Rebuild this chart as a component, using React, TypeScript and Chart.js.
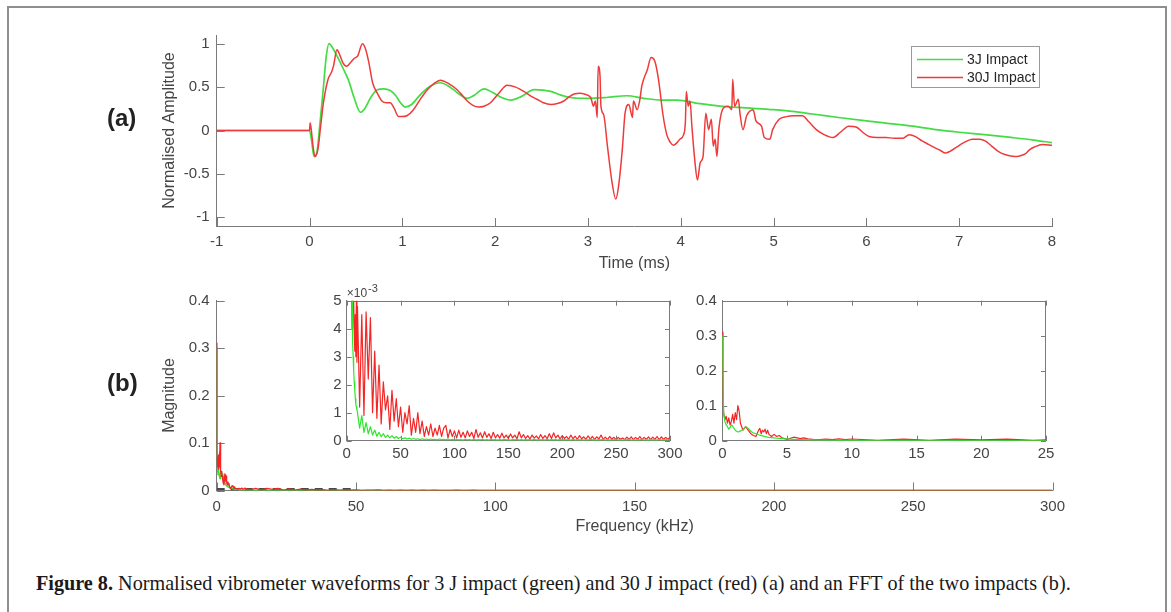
import React, { useEffect, useRef } from "react";
import { Chart, registerables } from "chart.js";

Chart.register(...registerables);

// ---------------- tick labels ----------------
const timeTicks = [-1, 0, 1, 2, 3, 4, 5, 6, 7, 8];
const amplitudeTicks = [-1, -0.5, 0, 0.5, 1];
const freqTicks = [0, 50, 100, 150, 200, 250, 300];
const magnitudeTicks = [0, 0.1, 0.2, 0.3, 0.4];
const zoomFreqTicks = [0, 5, 10, 15, 20, 25];
const zoomMagTicks = [0, 0.001, 0.002, 0.003, 0.004, 0.005];

const seriesLabels = ["3J Impact", "30J Impact"];

// ---------------- (a) normalised waveforms: [time ms, amplitude] ----------------
const wave3J: [number, number][] = [
  [-1, 0], [0, 0], [0.02, -0.1], [0.05, -0.3], [0.08, -0.25], [0.11, 0.05], [0.15, 0.5],
  [0.18, 0.85], [0.21, 1.0], [0.25, 0.95], [0.3, 0.85], [0.36, 0.72], [0.42, 0.58],
  [0.48, 0.38], [0.55, 0.21], [0.6, 0.26], [0.66, 0.38], [0.73, 0.47], [0.8, 0.48],
  [0.87, 0.46], [0.93, 0.4], [0.98, 0.32], [1.03, 0.27], [1.1, 0.3], [1.2, 0.42],
  [1.3, 0.51], [1.41, 0.55], [1.5, 0.51], [1.6, 0.43], [1.7, 0.37], [1.78, 0.41],
  [1.88, 0.48], [1.97, 0.44], [2.07, 0.38], [2.17, 0.35], [2.28, 0.39], [2.42, 0.47],
  [2.6, 0.45], [2.7, 0.41], [2.81, 0.38], [3.0, 0.37], [3.2, 0.38], [3.42, 0.4],
  [3.6, 0.37], [3.8, 0.35], [3.96, 0.35], [4.2, 0.31], [4.42, 0.28], [4.7, 0.26],
  [5.0, 0.24], [5.2, 0.22], [5.42, 0.19], [5.7, 0.15], [6.0, 0.11], [6.25, 0.08],
  [6.5, 0.05], [6.75, 0.01], [7.0, -0.02], [7.3, -0.05], [7.56, -0.08], [7.8, -0.11],
  [8.0, -0.14],
];

const wave30J: [number, number][] = [
  [-1, 0], [0, 0], [0.007, 0.09], [0.02, 0.0], [0.04, -0.2], [0.06, -0.3], [0.09, -0.22],
  [0.12, 0.05], [0.15, 0.32], [0.2, 0.59], [0.24, 0.68], [0.26, 0.75], [0.295, 0.93],
  [0.33, 0.86], [0.36, 0.78], [0.4, 0.74], [0.44, 0.78], [0.48, 0.83], [0.52, 0.86],
  [0.57, 1.0], [0.6, 0.95], [0.64, 0.78], [0.68, 0.55], [0.73, 0.43], [0.78, 0.34],
  [0.83, 0.32], [0.87, 0.32], [0.91, 0.26], [0.96, 0.16], [1.0, 0.16], [1.05, 0.17],
  [1.12, 0.24], [1.2, 0.37], [1.27, 0.47], [1.34, 0.54], [1.41, 0.58], [1.5, 0.54],
  [1.59, 0.47], [1.65, 0.4], [1.7, 0.34], [1.76, 0.29], [1.82, 0.27], [1.88, 0.28],
  [1.95, 0.32], [2.04, 0.43], [2.13, 0.52], [2.22, 0.5], [2.31, 0.45], [2.38, 0.4],
  [2.45, 0.36], [2.52, 0.32], [2.6, 0.3], [2.67, 0.31], [2.74, 0.34], [2.8, 0.39],
  [2.85, 0.42], [2.92, 0.43], [2.96, 0.42], [3.03, 0.38], [3.06, 0.28], [3.08, 0.34],
  [3.1, 0.15], [3.11, 0.74], [3.13, 0.63], [3.14, 0.28], [3.17, 0.18], [3.21, -0.18],
  [3.26, -0.6], [3.3, -0.79], [3.33, -0.64], [3.37, -0.22], [3.4, 0.2], [3.44, 0.3],
  [3.48, 0.15], [3.49, 0.34], [3.53, 0.24], [3.56, 0.36], [3.58, 0.51], [3.64, 0.7],
  [3.68, 0.84], [3.72, 0.8], [3.76, 0.59], [3.81, 0.17], [3.85, -0.05], [3.89, -0.14],
  [3.92, -0.17], [3.96, -0.14], [3.99, -0.1], [4.03, -0.05], [4.05, 0.1], [4.06, 0.45],
  [4.08, 0.28], [4.1, 0.34], [4.12, 0.05], [4.15, -0.33], [4.18, -0.57], [4.21, -0.37],
  [4.24, -0.3], [4.27, 0.2], [4.3, 0.01], [4.33, 0.13], [4.35, -0.18], [4.37, -0.1],
  [4.39, -0.3], [4.41, 0.01], [4.46, 0.26], [4.51, 0.28], [4.55, 0.24], [4.56, 0.59],
  [4.58, 0.28], [4.62, 0.36], [4.64, 0.18], [4.67, 0.01], [4.71, 0.17], [4.78, 0.24],
  [4.81, 0.11], [4.87, 0.05], [4.9, -0.08], [4.96, -0.1], [4.99, 0.01], [5.06, 0.13],
  [5.14, 0.16], [5.21, 0.17], [5.31, 0.17], [5.38, 0.1], [5.46, 0.01], [5.55, -0.05],
  [5.64, -0.08], [5.72, -0.02], [5.81, 0.05], [5.89, 0.04], [5.96, -0.02], [6.03, -0.07],
  [6.12, -0.08], [6.21, -0.08], [6.3, -0.09], [6.39, -0.09], [6.46, -0.05], [6.53, -0.07],
  [6.6, -0.12], [6.67, -0.16], [6.74, -0.2], [6.8, -0.23], [6.85, -0.26], [6.9, -0.24],
  [6.96, -0.2], [7.05, -0.14], [7.14, -0.1], [7.22, -0.1], [7.28, -0.12], [7.35, -0.18],
  [7.42, -0.24], [7.5, -0.28], [7.6, -0.3], [7.66, -0.29], [7.71, -0.27], [7.76, -0.22],
  [7.81, -0.19], [7.9, -0.16], [8.0, -0.17],
];

// ---------------- (b) FFT magnitude: [frequency kHz, magnitude] ----------------
const fft3JLow: [number, number][] = [
  [0, 0.3], [0.05, 0.2], [0.1, 0.08], [0.2, 0.055], [0.3, 0.045], [0.4, 0.04], [0.5, 0.033],
  [0.6, 0.038], [0.7, 0.045], [0.8, 0.042], [0.9, 0.035], [1.0, 0.03], [1.1, 0.027],
  [1.2, 0.025], [1.3, 0.026], [1.4, 0.028], [1.5, 0.03], [1.6, 0.032], [1.7, 0.036],
  [1.8, 0.04], [1.9, 0.038], [2.0, 0.035], [2.2, 0.027], [2.4, 0.022], [2.6, 0.02],
  [2.8, 0.017], [2.9, 0.016], [3.0, 0.015], [3.1, 0.014], [3.2, 0.013], [3.3, 0.012],
  [3.4, 0.011], [3.5, 0.01], [3.6, 0.0095], [3.8, 0.009], [4.0, 0.008], [4.2, 0.007],
  [4.4, 0.0065], [4.6, 0.006], [4.8, 0.0055], [5.0, 0.005], [5.2, 0.0046], [5.5, 0.004],
  [5.8, 0.0035], [6.0, 0.003], [6.3, 0.0028], [6.6, 0.0025], [7.0, 0.0021], [7.5, 0.0018],
  [8.0, 0.0015], [8.5, 0.0013], [9.0, 0.0012], [9.5, 0.0011],
];

const fft30JLow: [number, number][] = [
  [0, 0.31], [0.05, 0.15], [0.1, 0.08], [0.2, 0.06], [0.3, 0.07], [0.4, 0.05], [0.5, 0.065],
  [0.6, 0.045], [0.7, 0.055], [0.8, 0.075], [0.9, 0.05], [1.0, 0.08], [1.1, 0.06],
  [1.2, 0.1], [1.3, 0.085], [1.4, 0.05], [1.5, 0.04], [1.6, 0.03], [1.7, 0.035],
  [1.8, 0.04], [1.9, 0.035], [2.0, 0.03], [2.2, 0.02], [2.4, 0.015], [2.6, 0.012],
  [2.8, 0.03], [2.9, 0.035], [3.0, 0.02], [3.1, 0.03], [3.2, 0.025], [3.3, 0.033],
  [3.4, 0.02], [3.5, 0.03], [3.6, 0.018], [3.8, 0.012], [4.0, 0.018], [4.2, 0.012],
  [4.4, 0.015], [4.6, 0.008], [4.8, 0.006], [5.0, 0.004], [5.2, 0.006], [5.5, 0.01],
  [5.8, 0.008], [6.0, 0.006], [6.3, 0.008], [6.6, 0.005], [7.0, 0.004], [7.5, 0.0032],
  [8.0, 0.0045], [8.5, 0.003], [9.0, 0.005], [9.5, 0.0028],
];

// above 10 kHz the magnitudes are read in units of 1e-3 (the inset's ×10^-3 axis)
const fft3JHighE3: [number, number][] = [
  [10, 1.0], [12, 0.45], [14, 0.9], [16, 0.3], [18, 0.65], [20, 0.25], [22, 0.5], [24, 0.2], [26, 0.38], [28, 0.16],
  [30, 0.3], [32, 0.14], [34, 0.25], [36, 0.12], [38, 0.2], [40, 0.1], [42, 0.18], [44, 0.09], [46, 0.15], [48, 0.08],
  [50, 0.12], [52, 0.07], [54, 0.1], [56, 0.06], [58, 0.09], [60, 0.05], [62, 0.08], [64, 0.05], [66, 0.07], [68, 0.04],
  [70, 0.07], [72, 0.04], [74, 0.06], [76, 0.03], [78, 0.06], [80, 0.04], [82, 0.05], [84, 0.03], [86, 0.06], [88, 0.03],
  [90, 0.05], [92, 0.03], [94, 0.06], [96, 0.03], [98, 0.05], [100, 0.02], [102, 0.05], [104, 0.03], [106, 0.04], [108, 0.02],
  [110, 0.05], [112, 0.03], [114, 0.04], [116, 0.02], [118, 0.05], [120, 0.02], [122, 0.04], [124, 0.03], [126, 0.05], [128, 0.02],
  [130, 0.04], [132, 0.02], [134, 0.05], [136, 0.03], [138, 0.04], [140, 0.02], [142, 0.04], [144, 0.02], [146, 0.05], [148, 0.03],
  [150, 0.04], [152, 0.02], [154, 0.04], [156, 0.03], [158, 0.05], [160, 0.02], [162, 0.04], [164, 0.02], [166, 0.04], [168, 0.03],
  [170, 0.04], [172, 0.02], [174, 0.05], [176, 0.02], [178, 0.04], [180, 0.03], [182, 0.04], [184, 0.02], [186, 0.05], [188, 0.02],
  [190, 0.04], [192, 0.03], [194, 0.04], [196, 0.02], [198, 0.05], [200, 0.02], [202, 0.04], [204, 0.03], [206, 0.04], [208, 0.02],
  [210, 0.05], [212, 0.02], [214, 0.04], [216, 0.03], [218, 0.04], [220, 0.02], [222, 0.04], [224, 0.02], [226, 0.05], [228, 0.03],
  [230, 0.04], [232, 0.02], [234, 0.04], [236, 0.03], [238, 0.05], [240, 0.02], [242, 0.04], [244, 0.02], [246, 0.04], [248, 0.03],
  [250, 0.05], [252, 0.02], [254, 0.04], [256, 0.02], [258, 0.04], [260, 0.03], [262, 0.05], [264, 0.02], [266, 0.04], [268, 0.02],
  [270, 0.04], [272, 0.03], [274, 0.05], [276, 0.02], [278, 0.04], [280, 0.02], [282, 0.04], [284, 0.03], [286, 0.04], [288, 0.02],
  [290, 0.05], [292, 0.02], [294, 0.04], [296, 0.03], [298, 0.04], [300, 0.02],
];

const fft30JHighE3: [number, number][] = [
  [10, 4.8], [12, 1.2], [14, 4.5], [16, 0.9], [18, 4.6], [20, 2.2], [22, 4.4], [24, 1.0], [26, 3.2], [28, 0.8],
  [30, 2.7], [32, 0.6], [34, 2.1], [36, 1.1], [38, 1.6], [40, 0.4], [42, 1.8], [44, 0.7], [46, 1.5], [48, 0.5],
  [50, 1.2], [52, 0.3], [54, 1.0], [56, 0.6], [58, 1.25], [60, 0.2], [62, 0.8], [64, 0.3], [66, 1.0], [68, 0.25],
  [70, 0.7], [72, 0.15], [74, 0.5], [76, 0.2], [78, 0.6], [80, 0.15], [82, 0.45], [84, 0.2], [86, 0.55], [88, 0.15],
  [90, 0.45], [92, 0.55], [94, 0.1], [96, 0.4], [98, 0.15], [100, 0.35], [102, 0.1], [104, 0.38], [106, 0.12], [108, 0.3],
  [110, 0.1], [112, 0.35], [114, 0.15], [116, 0.3], [118, 0.08], [120, 0.4], [122, 0.12], [124, 0.28], [126, 0.1], [128, 0.32],
  [130, 0.12], [132, 0.25], [134, 0.08], [136, 0.3], [138, 0.1], [140, 0.22], [142, 0.09], [144, 0.27], [146, 0.1], [148, 0.2],
  [150, 0.08], [152, 0.24], [154, 0.1], [156, 0.2], [158, 0.07], [160, 0.32], [162, 0.1], [164, 0.22], [166, 0.08], [168, 0.18],
  [170, 0.06], [172, 0.2], [174, 0.09], [176, 0.17], [178, 0.06], [180, 0.22], [182, 0.08], [184, 0.18], [186, 0.07], [188, 0.25],
  [190, 0.08], [192, 0.28], [194, 0.1], [196, 0.2], [198, 0.06], [200, 0.18], [202, 0.08], [204, 0.15], [206, 0.05], [208, 0.2],
  [210, 0.07], [212, 0.16], [214, 0.05], [216, 0.18], [218, 0.07], [220, 0.14], [222, 0.05], [224, 0.17], [226, 0.06], [228, 0.15],
  [230, 0.05], [232, 0.14], [234, 0.06], [236, 0.2], [238, 0.05], [240, 0.13], [242, 0.04], [244, 0.15], [246, 0.06], [248, 0.12],
  [250, 0.04], [252, 0.12], [254, 0.05], [256, 0.1], [258, 0.04], [260, 0.13], [262, 0.05], [264, 0.14], [266, 0.04], [268, 0.12],
  [270, 0.05], [272, 0.15], [274, 0.04], [276, 0.12], [278, 0.05], [280, 0.14], [282, 0.04], [284, 0.13], [286, 0.05], [288, 0.15],
  [290, 0.04], [292, 0.14], [294, 0.05], [296, 0.12], [298, 0.05], [300, 0.13],
];

// zoom-region marker drawn on the full-range FFT (0–50 kHz)
const zoomMarkerFreq = [0, 50];
const zoomMarkerMag = 0.0025;

// ---------------- styling ----------------
const SANS = '"Liberation Sans", Arial, Helvetica, sans-serif';
const SERIF = '"Liberation Serif", "Times New Roman", serif';
const AXIS = "#7a7a7a";
const TICK = "#454545";
const GREEN_A = "#44dc44";
const RED_A = "#ee3a3a";
const GREEN_B = "#2ee62e";
const RED_B = "#f52525";

const toXY = (pairs: [number, number][]) => pairs.map(([x, y]) => ({ x, y }));
const e3 = (pairs: [number, number][]) => pairs.map(([f, m]) => [f, m / 1000] as [number, number]);
const fft3J = [...fft3JLow, ...e3(fft3JHighE3)];
const fft30J = [...fft30JLow, ...e3(fft30JHighE3)];

const fmt = (v: any) => String(Math.round(Number(v) * 1000) / 1000);

function axisDecor(len: number, box: boolean) {
  return {
    id: "axisDecor",
    beforeDatasetsDraw(chart: any) {
      const { ctx, chartArea: a, scales } = chart;
      const xs = scales.x;
      const ys = scales.y;
      ctx.save();
      ctx.strokeStyle = AXIS;
      ctx.lineWidth = 1;
      ctx.beginPath();
      for (const t of xs.ticks) {
        const px = Math.round(xs.getPixelForValue(t.value)) + 0.5;
        ctx.moveTo(px, a.bottom);
        ctx.lineTo(px, a.bottom - len);
        if (box) {
          ctx.moveTo(px, a.top);
          ctx.lineTo(px, a.top + len);
        }
      }
      for (const t of ys.ticks) {
        const py = Math.round(ys.getPixelForValue(t.value)) + 0.5;
        ctx.moveTo(a.left, py);
        ctx.lineTo(a.left + len, py);
        if (box) {
          ctx.moveTo(a.right, py);
          ctx.lineTo(a.right - len, py);
        }
      }
      if (box) {
        ctx.moveTo(a.left, Math.round(a.top) + 0.5);
        ctx.lineTo(a.right, Math.round(a.top) + 0.5);
        ctx.moveTo(Math.round(a.right) - 0.5, a.top);
        ctx.lineTo(Math.round(a.right) - 0.5, a.bottom);
      }
      ctx.stroke();
      ctx.restore();
    },
  };
}

function boxLegend(x: number, y: number, w: number, h: number, items: { text: string; color: string }[]) {
  return {
    id: "boxLegend",
    afterDraw(chart: any) {
      const { ctx } = chart;
      ctx.save();
      ctx.fillStyle = "#ffffff";
      ctx.fillRect(x, y, w, h);
      ctx.strokeStyle = "#9a9a9a";
      ctx.lineWidth = 1;
      ctx.strokeRect(x + 0.5, y + 0.5, w, h);
      items.forEach((it, i) => {
        const cy = y + 13.5 + i * 18;
        ctx.strokeStyle = it.color;
        ctx.lineWidth = 1.6;
        ctx.beginPath();
        ctx.moveTo(x + 6, cy);
        ctx.lineTo(x + 52, cy);
        ctx.stroke();
        ctx.fillStyle = "#262626";
        ctx.font = `14px ${SANS}`;
        ctx.textBaseline = "middle";
        ctx.fillText(it.text, x + 56, cy + 0.5);
      });
      ctx.restore();
    },
  };
}

function exponentLabel() {
  return {
    id: "exponentLabel",
    afterDraw(chart: any) {
      const { ctx, chartArea: a } = chart;
      ctx.save();
      ctx.fillStyle = TICK;
      ctx.textBaseline = "alphabetic";
      ctx.font = `12px ${SANS}`;
      const base = "\u00d710";
      ctx.fillText(base, a.left, a.top - 4);
      const w = ctx.measureText(base).width;
      ctx.font = `11px ${SANS}`;
      ctx.fillText("-3", a.left + w + 1, a.top - 9);
      ctx.restore();
    },
  };
}

function linearAxis(opts: {
  min: number;
  max: number;
  ticks: number[];
  fit: number;
  horizontal: boolean;
  padding: number;
  title?: string;
  format?: (v: any) => string;
}) {
  return {
    type: "linear",
    min: opts.min,
    max: opts.max,
    afterBuildTicks: (s: any) => {
      s.ticks = opts.ticks.map((v) => ({ value: v }));
    },
    afterFit: (s: any) => {
      if (opts.horizontal) s.height = opts.fit;
      else s.width = opts.fit;
    },
    grid: { display: false, drawTicks: false },
    border: { display: true, color: AXIS, width: 1 },
    ticks: {
      padding: opts.padding,
      color: TICK,
      font: { family: SANS, size: 15 },
      autoSkip: false,
      maxRotation: 0,
      callback: opts.format || fmt,
    },
    title: opts.title
      ? {
          display: true,
          text: opts.title,
          color: TICK,
          font: { family: SANS, size: 16 },
          padding: { top: 4, bottom: 4 },
        }
      : { display: false },
  };
}

function lineSet(label: string, pairs: [number, number][], color: string, width: number, order: number, smooth: boolean) {
  return {
    label,
    data: toXY(pairs),
    borderColor: color,
    backgroundColor: color,
    borderWidth: width,
    pointRadius: 0,
    fill: false,
    order,
    borderJoinStyle: "round",
    cubicInterpolationMode: smooth ? "monotone" : "default",
    tension: 0,
  };
}

const baseOptions = (padding: any, scales: any) => ({
  responsive: false,
  maintainAspectRatio: false,
  animation: false,
  events: [],
  layout: { padding },
  plugins: { legend: { display: false }, tooltip: { enabled: false }, title: { display: false } },
  scales,
});

export default function App() {
  const refA = useRef<HTMLCanvasElement>(null);
  const refB = useRef<HTMLCanvasElement>(null);
  const refC = useRef<HTMLCanvasElement>(null);
  const refD = useRef<HTMLCanvasElement>(null);

  useEffect(() => {
    const charts: Chart[] = [];

    // (a) time-domain waveforms
    charts.push(
      new Chart(refA.current as HTMLCanvasElement, {
        type: "line",
        data: {
          datasets: [
            lineSet(seriesLabels[0], wave3J, GREEN_A, 1.7, 1, true),
            lineSet(seriesLabels[1], wave30J, RED_A, 1.5, 0, true),
          ],
        } as any,
        options: baseOptions(
          { left: 156.4, right: 119, top: 35, bottom: 0 },
          {
            x: linearAxis({ min: -1, max: 8, ticks: timeTicks, fit: 51, horizontal: true, padding: 7, title: "Time (ms)" }),
            y: linearAxis({ min: -1.1, max: 1.1, ticks: amplitudeTicks, fit: 60.3, horizontal: false, padding: 7, title: "Normalised Amplitude" }),
          }
        ) as any,
        plugins: [
          axisDecor(8, false),
          boxLegend(911, 46, 128, 41, [
            { text: seriesLabels[0], color: GREEN_A },
            { text: seriesLabels[1], color: RED_A },
          ]),
        ] as any,
      })
    );

    // (b) full-range FFT
    charts.push(
      new Chart(refB.current as HTMLCanvasElement, {
        type: "line",
        data: {
          datasets: [
            lineSet(seriesLabels[0], fft3J, GREEN_B, 1.3, 1, false),
            lineSet(seriesLabels[1], fft30J, RED_B, 1.3, 0, false),
            {
              label: "zoom region",
              data: zoomMarkerFreq.map((f) => ({ x: f, y: zoomMarkerMag })),
              borderColor: "#4a4a4a",
              borderWidth: 2.5,
              borderDash: [8, 6],
              pointRadius: 0,
              fill: false,
              order: 2,
            },
          ],
        } as any,
        options: baseOptions(
          { left: 156.4, right: 118.5, top: 20.5, bottom: 0 },
          {
            x: linearAxis({ min: 0, max: 300, ticks: freqTicks, fit: 49.5, horizontal: true, padding: 7, title: "Frequency (kHz)" }),
            y: linearAxis({ min: 0, max: 0.4, ticks: magnitudeTicks, fit: 60.3, horizontal: false, padding: 7, title: "Magnitude" }),
          }
        ) as any,
        plugins: [axisDecor(8, false)] as any,
      })
    );

    // inset: 0–300 kHz, ×10^-3
    charts.push(
      new Chart(refC.current as HTMLCanvasElement, {
        type: "line",
        data: {
          datasets: [
            lineSet(seriesLabels[0], fft3J, GREEN_B, 1.2, 0, false),
            lineSet(seriesLabels[1], fft30J, RED_B, 1.2, 1, false),
          ],
        } as any,
        options: baseOptions(
          { left: 0, right: 20, top: 20.7, bottom: 0 },
          {
            x: linearAxis({ min: 0, max: 300, ticks: freqTicks, fit: 29.3, horizontal: true, padding: 4 }),
            y: linearAxis({
              min: 0,
              max: 0.005,
              ticks: zoomMagTicks,
              fit: 56.7,
              horizontal: false,
              padding: 5,
              format: (v: any) => String(Math.round(Number(v) * 1000)),
            }),
          }
        ) as any,
        plugins: [axisDecor(5, true), exponentLabel()] as any,
      })
    );

    // inset: 0–25 kHz
    charts.push(
      new Chart(refD.current as HTMLCanvasElement, {
        type: "line",
        data: {
          datasets: [
            lineSet(seriesLabels[0], fft3J, GREEN_B, 1.2, 0, false),
            lineSet(seriesLabels[1], fft30J, RED_B, 1.2, 1, false),
          ],
        } as any,
        options: baseOptions(
          { left: 0, right: 24, top: 20.7, bottom: 0 },
          {
            x: linearAxis({ min: 0, max: 25, ticks: zoomFreqTicks, fit: 29.3, horizontal: true, padding: 4 }),
            y: linearAxis({ min: 0, max: 0.4, ticks: magnitudeTicks, fit: 52.3, horizontal: false, padding: 5.5 }),
          }
        ) as any,
        plugins: [axisDecor(5, true)] as any,
      })
    );

    return () => charts.forEach((c) => c.destroy());
  }, []);

  const abs = (left: number, top: number, w: number, h: number): React.CSSProperties => ({
    position: "absolute",
    left,
    top,
    width: w,
    height: h,
  });

  return (
    <div
      style={{
        position: "absolute",
        left: 0,
        top: 0,
        width: 1171,
        height: 612,
        overflow: "hidden",
        background: "#ffffff",
      }}
    >
      <div
        style={{
          position: "absolute",
          left: 7,
          top: 6,
          width: 1160,
          height: 640,
          boxSizing: "border-box",
          border: "2px solid #8e8e8e",
        }}
      />
      <canvas ref={refA} width={1171} height={277} style={abs(0, 0, 1171, 277)} />
      <canvas ref={refB} width={1171} height={260} style={abs(0, 280, 1171, 260)} />
      <canvas ref={refC} width={400} height={190} style={abs(290, 280, 400, 190)} />
      <canvas ref={refD} width={400} height={190} style={abs(670, 280, 400, 190)} />
      <div
        style={{
          position: "absolute",
          left: 107,
          top: 104,
          fontFamily: SANS,
          fontWeight: "bold",
          fontSize: 24,
          lineHeight: "28px",
          color: "#222222",
        }}
      >
        (a)
      </div>
      <div
        style={{
          position: "absolute",
          left: 107,
          top: 369,
          fontFamily: SANS,
          fontWeight: "bold",
          fontSize: 24,
          lineHeight: "28px",
          color: "#222222",
        }}
      >
        (b)
      </div>
      <div
        style={{
          position: "absolute",
          left: 36,
          top: 572,
          fontFamily: SERIF,
          fontSize: 20.2,
          lineHeight: "22px",
          whiteSpace: "nowrap",
          color: "#1a1a1a",
        }}
      >
        <b>Figure 8.</b> Normalised vibrometer waveforms for 3 J impact (green) and 30 J impact (red) (a) and an FFT
        of the two impacts (b).
      </div>
    </div>
  );
}
